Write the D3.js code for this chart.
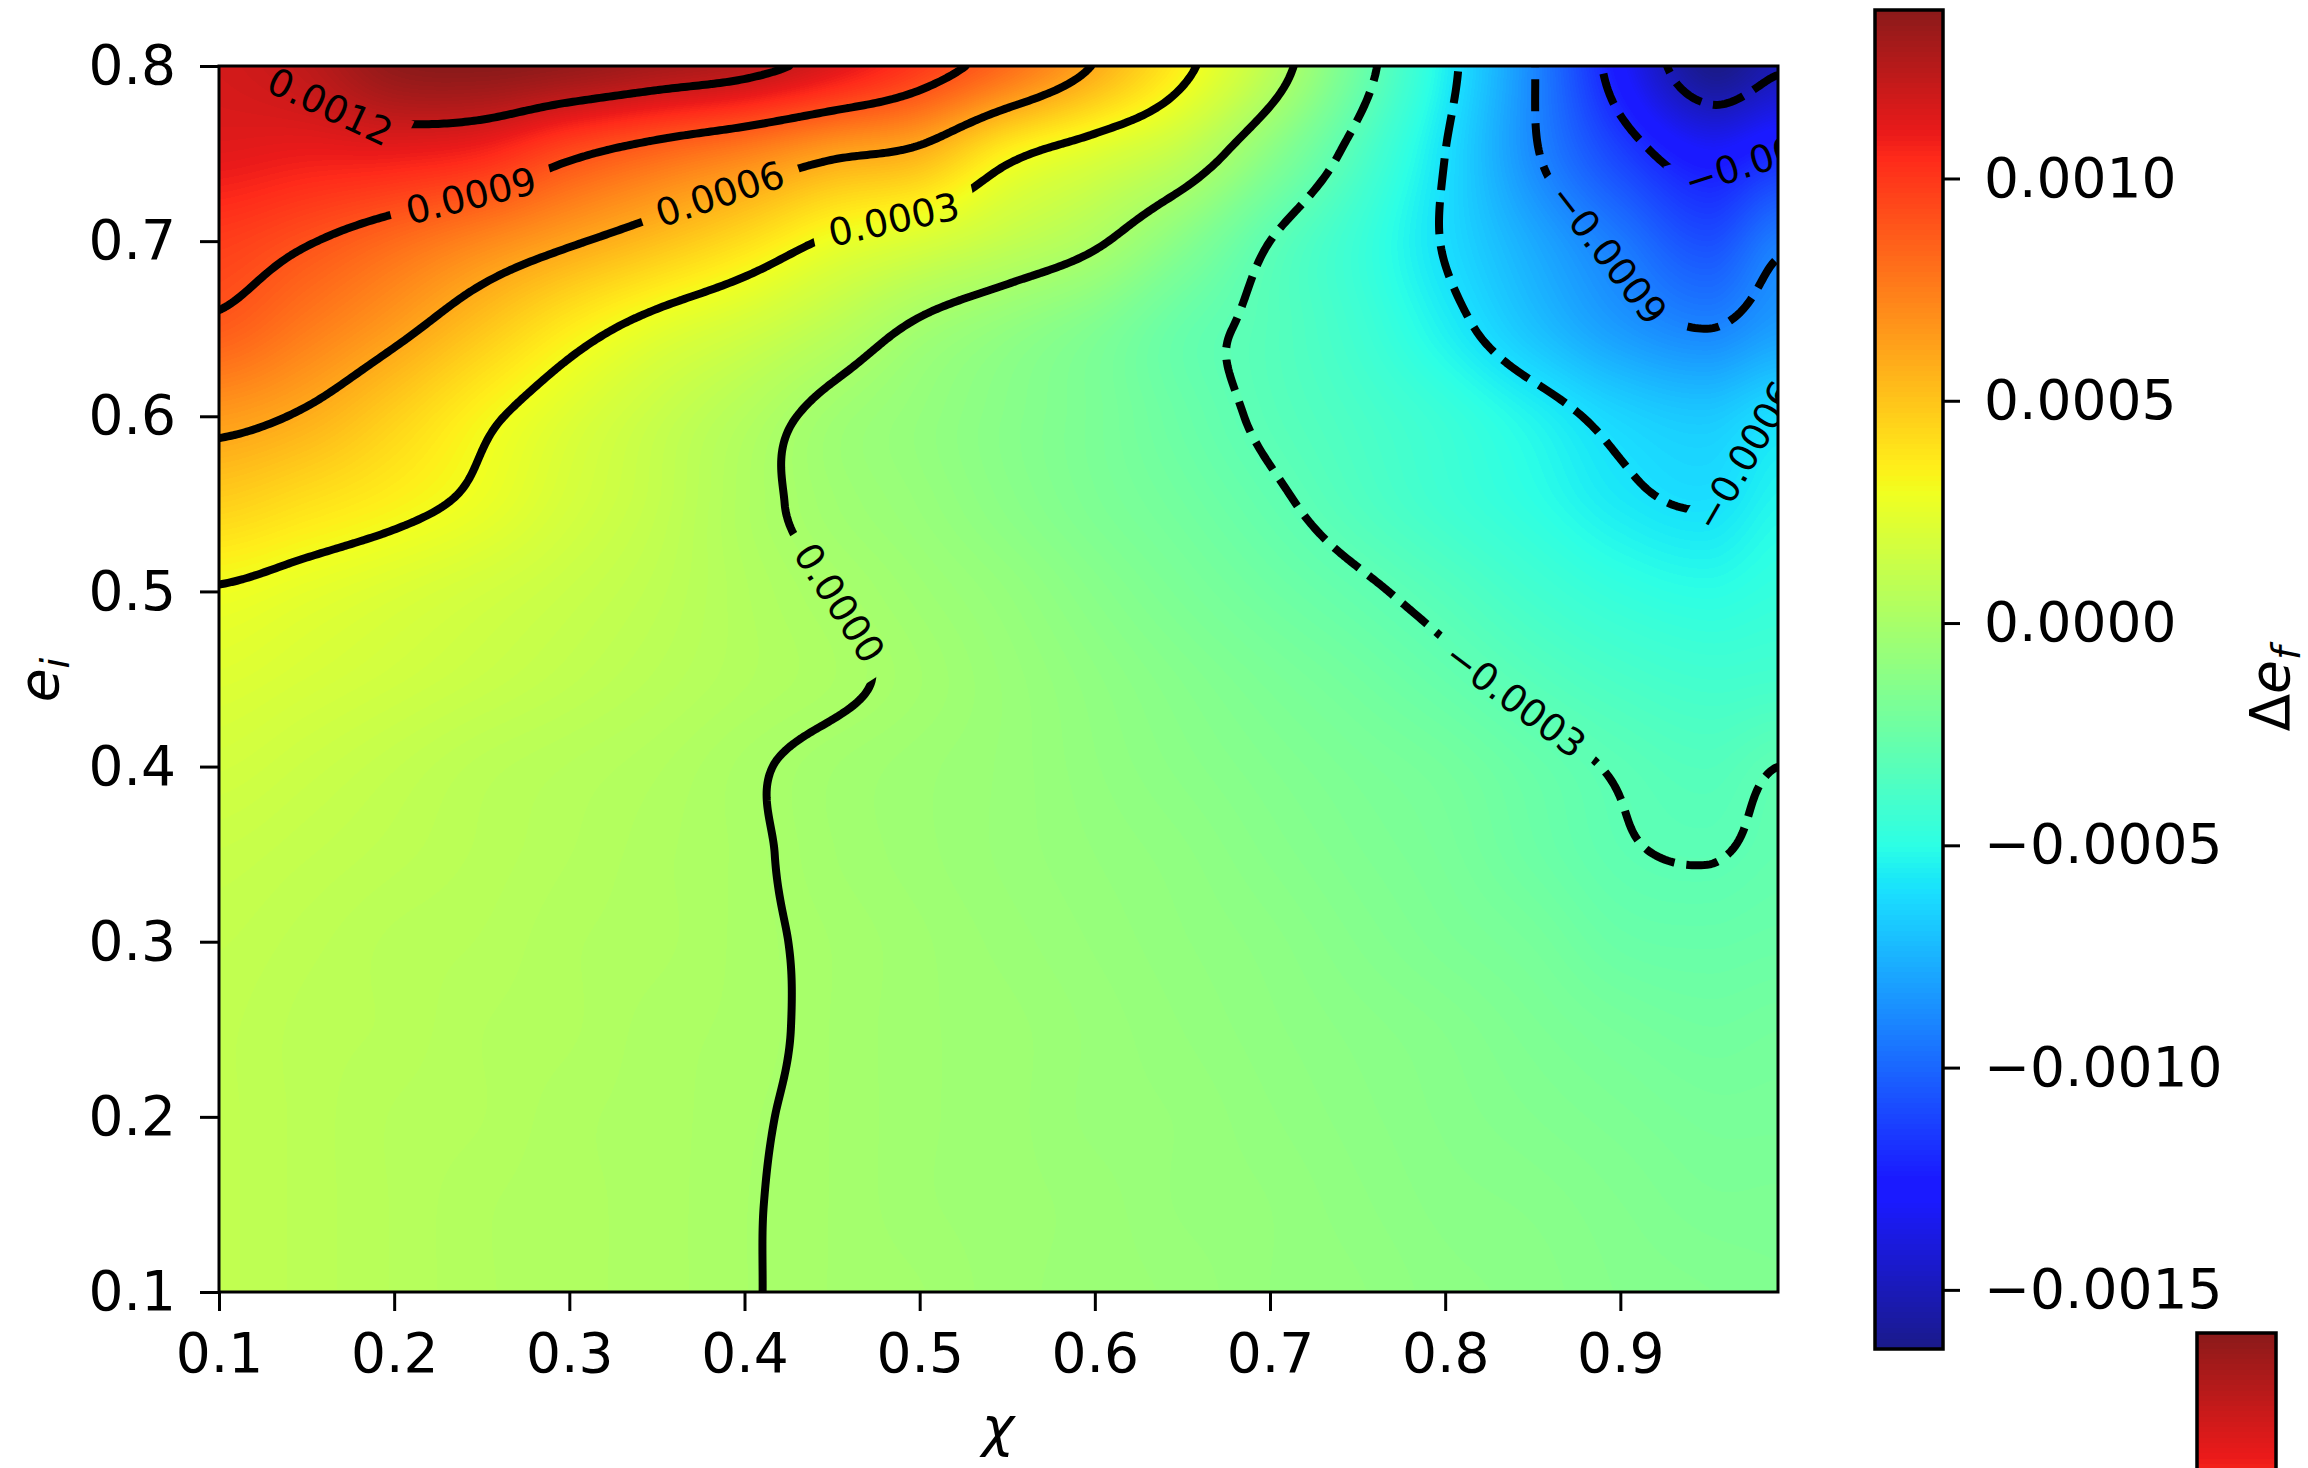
<!DOCTYPE html>
<html>
<head>
<meta charset="utf-8">
<script src="https://cdn.jsdelivr.net/npm/d3@7"></script>
<style>
html,body{margin:0;padding:0;background:#fff;}
svg{display:block;}
text{font-family:"DejaVu Sans",sans-serif;}
</style>
</head>
<body>
<svg id="chart" width="2308" height="1468" xmlns="http://www.w3.org/2000/svg"></svg>
<script>
// ================= DATA =================
// grid of chi (x) and e_i (y)
const chi = [0.10,0.15,0.20,0.25,0.30,0.35,0.40,0.45,0.50,0.55,0.60,0.65,0.70,0.75,0.80,0.85,0.90,0.95,0.99];
const ei  = [0.10,0.15,0.20,0.25,0.30,0.35,0.40,0.45,0.50,0.55,0.60,0.65,0.70,0.75,0.80];
// Δe_f values in units of 1e-4, one array per e_i row (bottom to top)
const dEf_e010 = [1.0,0.8,0.6,0.4,0.3,0.2,0.03,-0.1,-0.2,-0.4,-0.5,-0.6,-0.8,-0.9,-1.1,-1.2,-1.4,-1.5,-1.6];
const dEf_e015 = [1.0,0.8,0.6,0.4,0.3,0.2,0.03,-0.1,-0.3,-0.4,-0.5,-0.7,-0.8,-1.0,-1.2,-1.3,-1.5,-1.7,-1.7];
const dEf_e020 = [1.0,0.8,0.6,0.5,0.3,0.2,0.05,-0.1,-0.3,-0.4,-0.6,-0.7,-0.9,-1.1,-1.3,-1.5,-1.7,-1.9,-1.9];
const dEf_e025 = [1.0,0.8,0.7,0.5,0.4,0.2,0.1,-0.1,-0.3,-0.4,-0.6,-0.8,-1.0,-1.2,-1.4,-1.7,-2.0,-2.2,-2.1];
const dEf_e030 = [1.1,0.9,0.7,0.6,0.4,0.3,0.1,-0.1,-0.3,-0.5,-0.7,-0.9,-1.1,-1.4,-1.7,-2.0,-2.5,-2.6,-2.5];
const dEf_e035 = [1.3,1.1,0.9,0.7,0.5,0.3,0.1,-0.2,-0.4,-0.6,-0.8,-1.0,-1.3,-1.6,-1.9,-2.4,-2.9,-3.05,-2.8];
const dEf_e040 = [1.7,1.4,1.1,0.8,0.6,0.4,0.1,-0.2,-0.4,-0.6,-0.9,-1.2,-1.5,-1.8,-2.1,-2.6,-3.1,-3.4,-3.0];
const dEf_e045 = [2.2,1.9,1.6,1.3,1.0,0.7,0.4,0.15,-0.2,-0.6,-1.0,-1.4,-1.8,-2.2,-2.7,-3.3,-3.8,-4.1,-4.0];
const dEf_e050 = [2.9,2.5,2.1,1.7,1.3,0.9,0.4,0.0,-0.4,-0.8,-1.3,-1.8,-2.3,-2.8,-3.4,-4.1,-4.7,-5.0,-4.7];
const dEf_e055 = [4.6,4.0,3.4,2.7,1.8,1.1,0.3,-0.3,-0.7,-1.2,-1.7,-2.2,-2.8,-3.5,-4.2,-4.9,-5.7,-6.05,-5.3];
const dEf_e060 = [6.5,5.8,4.6,3.3,2.2,1.3,0.5,-0.3,-0.8,-1.3,-1.8,-2.5,-3.2,-3.8,-4.5,-5.4,-6.4,-6.8,-6.1];
const dEf_e065 = [8.7,7.6,6.4,5.0,3.6,2.5,1.7,0.8,-0.2,-0.9,-1.6,-2.6,-3.3,-4.2,-5.5,-7.0,-8.3,-9.0,-8.2];
const dEf_e070 = [9.8,9.1,8.2,7.2,6.2,5.2,4.1,2.8,2.0,1.1,0.2,-1.3,-3.0,-4.4,-6.1,-7.8,-9.4,-10.8,-9.3];
const dEf_e075 = [11.2,11.0,11.0,10.6,9.3,8.3,7.4,6.3,5.6,3.4,2.2,1.0,-1.2,-3.5,-6.0,-8.8,-11.2,-12.9,-12.0];
const dEf_e080 = [11.7,12.3,13.6,13.8,13.5,13.0,12.5,11.4,9.9,8.1,5.9,3.4,0.8,-2.3,-5.5,-8.9,-12.8,-16.3,-15.2];
const valueUnit = 1e-4;

const contourLevels = [-0.0015,-0.0012,-0.0009,-0.0006,-0.0003,0,0.0003,0.0006,0.0009,0.0012];
const xTicks = [0.1,0.2,0.3,0.4,0.5,0.6,0.7,0.8,0.9];
const yTicks = [0.1,0.2,0.3,0.4,0.5,0.6,0.7,0.8];
const cbarTicks = [0.0010,0.0005,0.0,-0.0005,-0.0010,-0.0015];
const cbarTickLabels = ["0.0010","0.0005","0.0000","\u22120.0005","\u22120.0010","\u22120.0015"];
const colorMin = -0.001633, colorMax = 0.001379;
const xLabel = "\u03c7";

// ================= LAYOUT =================
const W = 2308, H = 1468;
const plot = {left:219, right:1778, top:66, bottom:1292};
const cbar = {left:1875, right:1943, top:10, bottom:1349};
const cbar2 = {left:2197, right:2276, top:1333};
const FONT = 55, LABEL_FONT = 38, LINE_W = 8;
// approximate label anchors (chi, e_i) for inline contour labels
const labelAnchors = [
  [0.0012, 0.163, 0.778], [0.0009, 0.243, 0.731], [0.0006, 0.386, 0.729],
  [0.0003, 0.485, 0.718], [0.0, 0.455, 0.494], [-0.0003, 0.837, 0.434],
  [-0.0009, 0.895, 0.694], [-0.0006, 0.974, 0.575], [-0.0012, 0.982, 0.748]
];

const rows = [dEf_e010,dEf_e015,dEf_e020,dEf_e025,dEf_e030,dEf_e035,dEf_e040,dEf_e045,dEf_e050,dEf_e055,dEf_e060,dEf_e065,dEf_e070,dEf_e075,dEf_e080]
  .map(r => r.map(v => v * valueUnit));

const xScale = d3.scaleLinear().domain([0.1, 0.99]).range([plot.left, plot.right]);
const yScale = d3.scaleLinear().domain([0.1, 0.8]).range([plot.bottom, plot.top]);
const cY = d3.scaleLinear().domain([colorMin, colorMax]).range([cbar.bottom, cbar.top]);

// ---- jet colormap, alpha 0.9 on white ----
function seg(s, t){ for(let i=0;i<s.length-1;i++){ if(t<=s[i+1][0]) return s[i][1]+(s[i+1][1]-s[i][1])*(t-s[i][0])/(s[i+1][0]-s[i][0]); } return s[s.length-1][1]; }
const jR=[[0,0],[0.35,0],[0.66,1],[0.89,1],[1,0.5]], jG=[[0,0],[0.125,0],[0.375,1],[0.64,1],[0.91,0],[1,0]], jB=[[0,0.5],[0.11,1],[0.34,1],[0.65,0],[1,0]];
const LUT = d3.range(256).map(i => { const t=i/255; return [jR,jG,jB].map(s => Math.round((0.9*seg(s,t)+0.1)*255)); });
function colorOf(v){ let t=(v-colorMin)/(colorMax-colorMin); t=Math.max(0,Math.min(1,t)); return LUT[Math.min(255,Math.floor(t*256))]; }

// ---- smooth (Catmull-Rom) sampling of the grid for rendering ----
function fracIndex(arr, v){
  if (v <= arr[0]) return 0;
  if (v >= arr[arr.length-1]) return arr.length-1;
  const i = d3.bisectRight(arr, v) - 1;
  return i + (v-arr[i])/(arr[i+1]-arr[i]);
}
function crW(t){ const t2=t*t, t3=t2*t; return [0.5*(-t+2*t2-t3), 0.5*(2-5*t2+3*t3), 0.5*(t+4*t2-3*t3), 0.5*(-t2+t3)]; }
function crSample(vals, u){
  const n = vals.length; let i = Math.floor(u); if (i >= n-1) i = n-2; const t = u - i; const w = crW(t);
  const g = k => vals[Math.max(0, Math.min(n-1, k))];
  return w[0]*g(i-1)+w[1]*g(i)+w[2]*g(i+1)+w[3]*g(i+2);
}
function sample(x, y){
  const ux = fracIndex(chi, x), uy = fracIndex(ei, y);
  const col = rows.map(r => crSample(r, ux));
  return crSample(col, uy);
}

const svg = d3.select('#chart');
const defs = svg.append('defs');
defs.append('clipPath').attr('id','plotClip').append('rect')
  .attr('x',plot.left).attr('y',plot.top).attr('width',plot.right-plot.left).attr('height',plot.bottom-plot.top);

// ---- heatmap raster ----
(function(){
  const PW = plot.right-plot.left, PH = plot.bottom-plot.top;
  const cv = document.createElement('canvas'); cv.width=PW; cv.height=PH;
  const ctx = cv.getContext('2d'); const img = ctx.createImageData(PW,PH);
  const colInterp = rows.map(r => { const a=new Float64Array(PW); for(let c=0;c<PW;c++){ a[c]=crSample(r, fracIndex(chi, xScale.invert(plot.left+c+0.5))); } return a; });
  const n = rows.length;
  for (let r=0;r<PH;r++){
    const u = fracIndex(ei, yScale.invert(plot.top+r+0.5));
    let i = Math.floor(u); if (i>=n-1) i=n-2; const w = crW(u-i);
    const R = k => colInterp[Math.max(0,Math.min(n-1,k))];
    const a0=R(i-1),a1=R(i),a2=R(i+1),a3=R(i+2);
    for (let c=0;c<PW;c++){
      const v = w[0]*a0[c]+w[1]*a1[c]+w[2]*a2[c]+w[3]*a3[c];
      const col = colorOf(v); const p=(r*PW+c)*4;
      img.data[p]=col[0]; img.data[p+1]=col[1]; img.data[p+2]=col[2]; img.data[p+3]=255;
    }
  }
  ctx.putImageData(img,0,0);
  svg.append('image').attr('x',plot.left).attr('y',plot.top).attr('width',PW).attr('height',PH)
    .attr('preserveAspectRatio','none').attr('href', cv.toDataURL());
})();

// ---- contours ----
const step = 3, margin = 30;
const gx0 = plot.left - margin, gy0 = plot.top - margin;
const nx = Math.ceil((plot.right-plot.left+2*margin)/step)+1;
const ny = Math.ceil((plot.bottom-plot.top+2*margin)/step)+1;
const fine = new Float64Array(nx*ny);
for (let j=0;j<ny;j++) for (let i=0;i<nx;i++) fine[j*nx+i] = sample(xScale.invert(gx0+i*step), yScale.invert(gy0+j*step));
const contours = d3.contours().size([nx,ny]).thresholds(contourLevels)(fine);
const toPx = p => [gx0+(p[0]-0.5)*step, gy0+(p[1]-0.5)*step];
const geoPath = d3.geoPath(d3.geoTransform({point(x,y){ const q=toPx([x,y]); this.stream.point(q[0],q[1]); }}));

const fmtLevel = v => (Math.abs(v)<1e-12 ? "0.0000" : (v<0?"\u2212":"")+Math.abs(v).toFixed(4));

// label placement
const labelsG = svg.append('g').attr('clip-path','url(#plotClip)');
const mask = defs.append('mask').attr('id','lblMask').attr('maskUnits','userSpaceOnUse')
  .attr('x',0).attr('y',0).attr('width',W).attr('height',H);
mask.append('rect').attr('x',0).attr('y',0).attr('width',W).attr('height',H).attr('fill','#fff');

labelAnchors.forEach(([lev, ax, ay]) => {
  const c = contours.find(cc => Math.abs(cc.value-lev)<1e-12);
  if (!c) return;
  const A = [xScale(ax), yScale(ay)];
  let best=null, bd=Infinity;
  c.coordinates.forEach(poly => poly.forEach(ring => {
    const pts = ring.map(toPx);
    pts.forEach((p,k) => { const d=(p[0]-A[0])**2+(p[1]-A[1])**2; if(d<bd){bd=d;best={pts,k};} });
  }));
  if (!best) return;
  const L = best.pts.length, m = 12;
  const P = best.pts[best.k], p1 = best.pts[(best.k-m+L)%L], p2 = best.pts[(best.k+m)%L];
  let ang = Math.atan2(p2[1]-p1[1], p2[0]-p1[0])*180/Math.PI;
  if (ang>90) ang-=180; if (ang<-90) ang+=180;
  const t = labelsG.append('text').attr('transform',`translate(${P[0]},${P[1]}) rotate(${ang})`)
    .attr('text-anchor','middle').attr('dominant-baseline','central')
    .attr('font-size',LABEL_FONT).attr('fill','#000').text(fmtLevel(lev));
  const len = t.node().getComputedTextLength();
  mask.append('rect').attr('x',-len/2-16).attr('y',-LABEL_FONT*0.6).attr('width',len+32).attr('height',LABEL_FONT*1.2)
    .attr('transform',`translate(${P[0]},${P[1]}) rotate(${ang})`).attr('fill','#000');
});

const linesG = svg.insert('g', () => labelsG.node()).attr('clip-path','url(#plotClip)')
  .append('g').attr('mask','url(#lblMask)');
linesG.selectAll('path').data(contours).join('path')
  .attr('d', d => geoPath(d))
  .attr('fill','none').attr('stroke','#000').attr('stroke-width',LINE_W)
  .attr('stroke-linejoin','round')
  .attr('stroke-dasharray', d => d.value < -1e-12 ? '32,12' : null);

// ---- axes ----
const axStyle = g => { g.selectAll('.domain').remove(); g.selectAll('line').attr('stroke','#000').attr('stroke-width',3);
  g.selectAll('text').attr('font-size',FONT).attr('fill','#000').attr('font-family','"DejaVu Sans",sans-serif'); };
svg.append('g').attr('transform',`translate(0,${plot.bottom})`)
  .call(d3.axisBottom(xScale).tickValues(xTicks).tickFormat(d3.format('.1f')).tickSize(19).tickPadding(22))
  .call(axStyle);
svg.append('g').attr('transform',`translate(${plot.left},0)`)
  .call(d3.axisLeft(yScale).tickValues(yTicks).tickFormat(d3.format('.1f')).tickSize(19).tickPadding(24))
  .call(axStyle);
svg.append('rect').attr('x',plot.left).attr('y',plot.top).attr('width',plot.right-plot.left).attr('height',plot.bottom-plot.top)
  .attr('fill','none').attr('stroke','#000').attr('stroke-width',3);

// axis labels
svg.append('text').attr('x',998).attr('y',1446).attr('text-anchor','middle').attr('font-size',FONT)
  .attr('font-style','italic').text(xLabel);
const yl = svg.append('text').attr('transform','translate(58,680) rotate(-90)').attr('text-anchor','middle').attr('font-size',FONT);
yl.append('tspan').attr('font-style','italic').text('e');
yl.append('tspan').attr('font-style','italic').attr('font-size',FONT*0.7).attr('dy',FONT*0.2).text('i');
const cl = svg.append('text').attr('transform','translate(2289,689) rotate(-90)').attr('text-anchor','middle').attr('font-size',FONT);
cl.append('tspan').text('\u0394');
cl.append('tspan').attr('font-style','italic').text('e');
cl.append('tspan').attr('font-style','italic').attr('font-size',FONT*0.7).attr('dy',FONT*0.2).text('f');

// ---- colorbar ----
function drawBar(x0, x1, y0, y1, scaleY){
  const w = x1-x0, h = Math.round(y1-y0);
  const cv = document.createElement('canvas'); cv.width=w; cv.height=h;
  const ctx = cv.getContext('2d');
  for (let r=0;r<h;r++){ const v = scaleY.invert(y0+r+0.5); const c = colorOf(v); ctx.fillStyle=`rgb(${c[0]},${c[1]},${c[2]})`; ctx.fillRect(0,r,w,1); }
  svg.append('image').attr('x',x0).attr('y',y0).attr('width',w).attr('height',h).attr('preserveAspectRatio','none').attr('href',cv.toDataURL());
  svg.append('rect').attr('x',x0).attr('y',y0).attr('width',w).attr('height',h).attr('fill','none').attr('stroke','#000').attr('stroke-width',3.5);
}
drawBar(cbar.left, cbar.right, cbar.top, cbar.bottom, cY);
const cbAxis = svg.append('g').attr('transform',`translate(${cbar.right},0)`)
  .call(d3.axisRight(cY).tickValues(cbarTicks).tickFormat((d,i)=>cbarTickLabels[i]).tickSize(17).tickPadding(24));
cbAxis.call(axStyle);
// partial second colour bar at bottom right
const cY2 = d3.scaleLinear().domain([colorMin, colorMax]).range([cbar2.top + (cbar.bottom-cbar.top), cbar2.top]);
drawBar(cbar2.left, cbar2.right, cbar2.top, H+10, cY2);
</script>
</body>
</html>
